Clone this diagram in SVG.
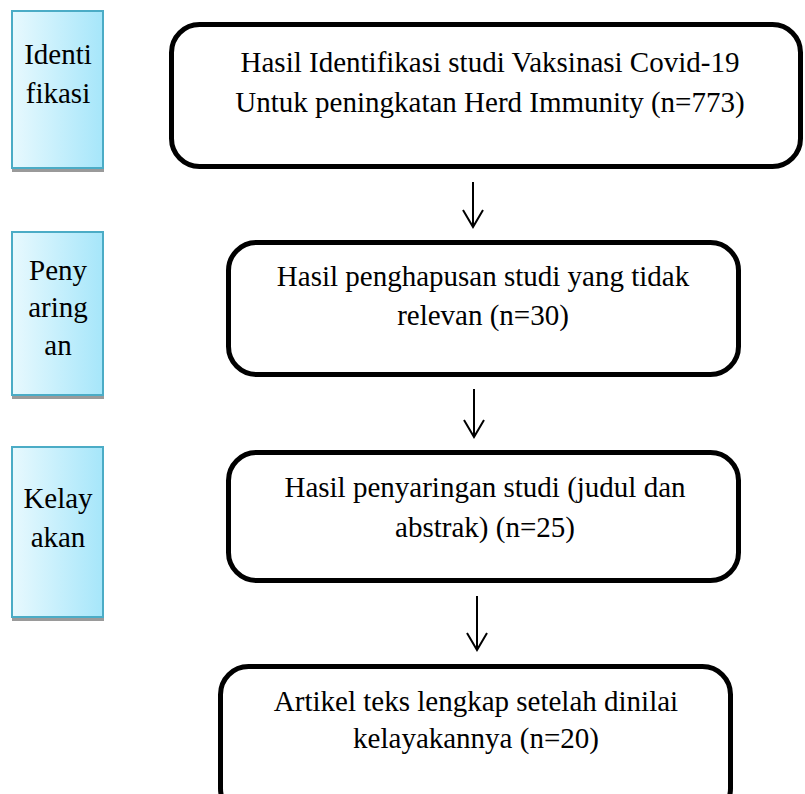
<svg xmlns="http://www.w3.org/2000/svg" width="805" height="794" viewBox="0 0 805 794">
<defs>
<linearGradient id="side" x1="0" y1="0" x2="1" y2="0">
<stop offset="0" stop-color="#e8f9fe"/>
<stop offset="1" stop-color="#a6e6fa"/>
</linearGradient>
<style>
.stage{fill:url(#side);stroke:#4bacc6;stroke-width:2}
.shadow{fill:#9a9a9a}
.box{fill:#fff;stroke:#000;stroke-width:5}
.t{font-family:"Liberation Serif","Times New Roman",serif;font-size:29px;fill:#000;text-anchor:middle}
.arr{fill:none;stroke:#000;stroke-width:2}
</style>
</defs>
<rect width="805" height="794" fill="#fff"/>
<g id="stage-identifikasi">
<rect class="shadow" x="12" y="13" width="92" height="159"/>
<rect class="stage" x="12" y="11" width="91" height="157"/>
<text class="t" x="58" y="64">Identi</text>
<text class="t" x="58" y="103">fikasi</text>
</g>
<g id="stage-penyaringan">
<rect class="shadow" x="12" y="234" width="92" height="165"/>
<rect class="stage" x="12" y="232" width="91" height="163"/>
<text class="t" x="58" y="280">Peny</text>
<text class="t" x="58" y="317">aring</text>
<text class="t" x="58" y="355">an</text>
</g>
<g id="stage-kelayakan">
<rect class="shadow" x="12" y="449" width="92" height="172"/>
<rect class="stage" x="12" y="447" width="91" height="170"/>
<text class="t" x="58" y="508">Kelay</text>
<text class="t" x="58" y="547">akan</text>
</g>
<g id="box-identifikasi">
<rect class="box" x="171.5" y="24.5" width="629" height="142" rx="28"/>
<text class="t" x="490" y="72">Hasil Identifikasi studi Vaksinasi Covid-19</text>
<text class="t" x="490" y="112">Untuk peningkatan Herd Immunity (n=773)</text>
</g>
<g id="box-penghapusan">
<rect class="box" x="228.5" y="242.5" width="510" height="132" rx="28"/>
<text class="t" x="483" y="286">Hasil penghapusan studi yang tidak</text>
<text class="t" x="483" y="325">relevan (n=30)</text>
</g>
<g id="box-penyaringan">
<rect class="box" x="228.5" y="452.5" width="510" height="128" rx="28"/>
<text class="t" x="485" y="497">Hasil penyaringan studi (judul dan</text>
<text class="t" x="485" y="537">abstrak) (n=25)</text>
</g>
<g id="box-kelayakan">
<rect class="box" x="220.5" y="666.5" width="510" height="150" rx="28"/>
<text class="t" x="476" y="711">Artikel teks lengkap setelah dinilai</text>
<text class="t" x="476" y="748">kelayakannya (n=20)</text>
</g>
<g id="connectors">
<path class="arr" d="M473 182V227M463 210L473 227L483 210"/>
<path class="arr" d="M474 389V437M464 420L474 437L484 420"/>
<path class="arr" d="M477 596V650M467 633L477 650L487 633"/>
</g>
</svg>
